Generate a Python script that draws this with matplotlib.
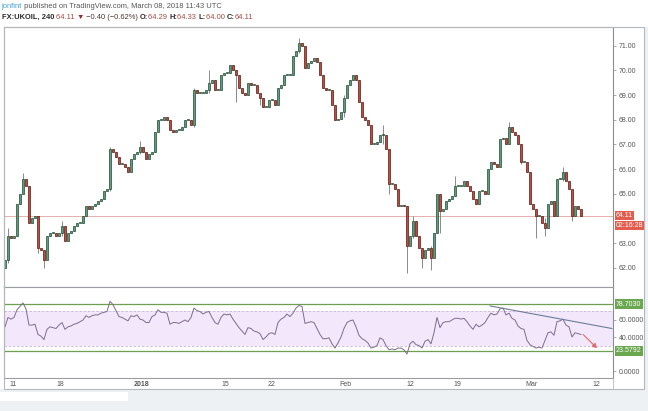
import matplotlib
matplotlib.use("Agg")
import matplotlib.pyplot as plt
from matplotlib.patches import Rectangle, FancyArrowPatch
import numpy as np

# ---------------- data ----------------
first_open = 62.0
closes = [
    62.3, 63.3, 63.2, 63.3, 64.6, 65.0, 65.6, 65.3, 63.8, 64.0,
    64.1, 62.8, 62.7, 62.3, 63.3, 63.4, 63.4, 63.3, 63.4, 63.7,
    63.1, 63.4, 63.5, 63.7, 63.8, 63.8, 64.1, 64.5, 64.4, 64.5,
    64.6, 64.7, 64.8, 65.1, 65.2, 66.8, 66.7, 66.5, 66.2, 66.2,
    66.1, 65.9, 66.4, 66.6, 66.7, 66.9, 66.7, 66.4, 66.6, 66.7,
    67.5, 68.0, 68.0, 68.1, 68.0, 67.6, 67.5, 67.6, 67.6, 67.7,
    68.0, 68.0, 67.8, 69.2, 69.1, 69.1, 69.1, 69.2, 69.5, 69.6,
    69.2, 69.2, 69.8, 69.9, 69.9, 70.2, 70.0, 69.8, 69.3, 69.1,
    69.0, 69.5, 69.4, 69.4, 69.1, 68.9, 68.5, 68.5, 68.8, 68.8,
    68.6, 69.3, 69.4, 69.8, 69.8, 69.8, 70.6, 70.8, 71.1, 71.0,
    70.1, 70.3, 70.4, 70.5, 70.35, 69.8, 69.3, 69.2, 69.2, 68.6,
    68.0, 68.05, 68.3, 68.9, 69.4, 69.6, 69.8, 69.6, 68.7, 68.1,
    68.0, 67.8, 67.0, 67.0, 67.1, 67.4, 67.4, 66.8, 65.4, 65.4,
    65.2, 64.5, 64.55, 64.5, 62.9, 63.3, 63.9, 63.3, 62.8, 62.4,
    62.7, 62.8, 62.4, 63.4, 65.0, 64.3, 64.4, 64.7, 64.8, 64.9,
    65.3, 65.3, 65.3, 65.5, 65.3, 65.1, 64.8, 64.6, 65.1, 65.1,
    65.0, 66.0, 66.3, 66.2, 66.1, 67.2, 67.25, 67.0, 67.7, 67.5,
    67.4, 67.0, 66.3, 66.3, 65.9, 64.6, 64.4, 64.1, 64.1, 63.8,
    63.6, 64.6, 64.7, 64.1, 65.6, 65.6, 65.9, 65.5, 65.2, 64.1,
    64.5, 64.4, 64.11,
]
# notable wick extremes: bar -> (high, low)
wicks = {
    1: (63.6, 62.2), 6: (65.85, 65.2), 11: (63.1, 62.6), 13: (62.6, 62.0),
    19: (63.9, 63.3), 35: (66.9, 65.1), 45: (67.15, 66.6), 63: (69.3, 67.7),
    68: (70.0, 69.1), 77: (70.0, 68.7), 85: (69.1, 68.6), 98: (71.3, 70.7),
    113: (69.0, 68.1), 126: (67.8, 67.0), 128: (66.8, 65.0), 134: (64.5, 61.8),
    136: (64.1, 63.2), 139: (62.8, 62.0), 142: (62.9, 61.9), 145: (65.0, 63.4),
    150: (65.7, 64.9), 168: (67.9, 67.0), 172: (66.8, 66.2), 177: (64.4, 63.2),
    180: (64.0, 63.3), 186: (66.1, 65.5), 189: (65.2, 63.9),
}
rsi = [
    52, 63, 61, 63, 72, 76, 80, 73, 54, 54,
    55, 43, 41, 37, 49, 52, 51, 50, 54, 57,
    49, 52, 53, 55, 56, 58, 60, 65, 63, 65,
    66, 66, 68, 69, 70, 82, 78, 71, 64, 63,
    61, 59, 65, 64, 66, 61, 60, 57, 57, 64,
    66, 72, 69, 69, 68, 55, 57, 57, 56, 58,
    60, 58, 63, 74, 71, 70, 67, 69, 70, 63,
    57, 55, 63, 67, 66, 67, 61, 56, 51, 47,
    43, 51, 50, 47, 46, 44, 37, 40, 44, 45,
    43, 57, 61, 63, 67, 64, 68, 74, 77, 76,
    56, 57, 58, 57, 50, 43, 38, 38, 39, 32,
    27, 33, 40, 50, 57, 59, 60, 52, 42, 38,
    36, 33, 27, 28, 30, 39, 37, 30, 25, 26,
    25, 27, 27, 25, 20, 32, 35, 31, 30, 27,
    35, 37, 32, 45, 63, 51, 57, 58, 58, 60,
    62, 62, 61, 62, 58, 53, 49, 55, 52, 54,
    57, 63, 68, 66, 67, 73, 74, 66, 68, 62,
    60, 53, 50, 49, 36, 31, 29, 27, 28, 27,
    36, 45, 46, 42, 58, 59, 61, 54, 52, 40,
    45, 44, 43,
]
last_price = 64.11
countdown = "02:16:28"
rsi_upper_level = 78.7030
rsi_lower_level = 23.5792
rsi_band = (30, 70)
price_ticks = [62, 63, 65, 66, 67, 68, 69, 70, 71]   # 64.00 is hidden by the last-price label
rsi_ticks = [0, 40, 60]
date_labels = ["11", "18", "2018", "15", "22", "Feb", "12", "19", "Mar", "12"]
date_bars = [2.67, 18.33, 45.57, 73.33, 88.9, 113.57, 135.23, 150.77, 175.57, 197.0]
trend_line = [(161.7, 76.5), (202.3, 50.0)]
rsi_arrow = [(192.7, 43.0), (197.3, 27.0)]

# ---------------- figure ----------------
W, H = 648, 411
fig = plt.figure(figsize=(W / 100, H / 100), dpi=100)
fig.patch.set_facecolor("white")
FONT = ["Liberation Sans", "DejaVu Sans"]

def fx(px):
    return px / W

def fy(py):
    return 1 - py / H

# bottom grey band
fig.add_artist(Rectangle((0, 0), 1, fy(389), transform=fig.transFigure,
                         fc="#eef1f4", ec="none", zorder=0))
fig.add_artist(Rectangle((fx(645), 0), fx(3), fy(27), transform=fig.transFigure,
                         fc="#eef1f4", ec="none", zorder=0))
fig.add_artist(Rectangle((0, fy(401)), fx(128), (401 - 392) / H, transform=fig.transFigure,
                         fc="white", ec="none", zorder=0))

ax = fig.add_axes([fx(4), fy(287), fx(609), (287 - 27) / H])
ax2 = fig.add_axes([fx(4), fy(378), fx(609), (378 - 287) / H], sharex=ax)

n = len(closes)
idx = np.arange(n)
opens = [first_open] + closes[:-1]
up_fc, up_ec = "#5f9c7c", "#1f4b33"
dn_fc, dn_ec = "#c24c3c", "#551812"
for i in range(n):
    o, c = opens[i], closes[i]
    hi, lo = max(o, c), min(o, c)
    if i in wicks:
        hi = max(hi, wicks[i][0])
        lo = min(lo, wicks[i][1])
    ax.vlines(i, lo, hi, color="#77777a", lw=0.6, zorder=2)
bottoms = [min(o, c) for o, c in zip(opens, closes)]
heights = [max(abs(c - o), 0.04) for o, c in zip(opens, closes)]
fcs = [up_fc if c >= o else dn_fc for o, c in zip(opens, closes)]
ecs = [up_ec if c >= o else dn_ec for o, c in zip(opens, closes)]
ax.bar(idx, heights, bottom=bottoms, width=0.72, color=fcs, edgecolor=ecs,
       linewidth=0.5, zorder=3)

ax.axhline(last_price, color="#e0a4a0", lw=0.6, zorder=1)
ax.set_ylim(61.22, 71.76)
ax.set_xlim(-0.33, 202.67)

for a in (ax, ax2):
    a.yaxis.tick_right()
    for s in ("left", "top", "bottom"):
        a.spines[s].set_color("#9a9ea3")
        a.spines[s].set_linewidth(0.8)
    a.spines["right"].set_color("#8a8d91")
    a.spines["right"].set_linewidth(0.8)
    a.tick_params(axis="y", which="both", direction="out", length=2.5, width=0.5,
                  colors="#8a8d91", labelsize=5, labelcolor="#555555", pad=1.5)

ax.set_yticks(price_ticks)
ax.set_yticklabels([f"{v:.2f}" for v in price_ticks], family=FONT)
ax.tick_params(axis="x", length=0, labelbottom=False)

red = "#e35d4d"
ax.annotate(f"{last_price:.2f}", xy=(1, last_price), xycoords=("axes fraction", "data"),
            xytext=(2.2, 0.2), textcoords="offset points", ha="left", va="center",
            fontsize=5, color="white", family=FONT,
            bbox=dict(boxstyle="square,pad=0.12", fc=red, ec="none"))
ax.annotate(countdown, xy=(1, last_price), xycoords=("axes fraction", "data"),
            xytext=(2.2, -7.2), textcoords="offset points", ha="left", va="center",
            fontsize=5, color="white", family=FONT,
            bbox=dict(boxstyle="square,pad=0.12", fc=red, ec="none"))

# ---------------- RSI pane ----------------
ax2.axhspan(rsi_band[0], rsi_band[1], color="#f3e8fb", zorder=0, lw=0)
for lv in rsi_band:
    ax2.axhline(lv, color="#c8b6d2", lw=0.6, ls=(0, (3, 2)), zorder=1)
green = "#6e9f4f"
ax2.axhline(rsi_upper_level, color=green, lw=0.9, zorder=2)
ax2.axhline(rsi_lower_level, color=green, lw=0.9, zorder=2)
ax2.plot(idx, rsi, color="#7d6b8c", lw=0.7, zorder=3)
(tx0, ty0), (tx1, ty1) = trend_line
ax2.plot([tx0, tx1], [ty0, ty1], color="#6f7c98", lw=0.8, zorder=4, clip_on=False)
(ax0_, ay0_), (ax1_, ay1_) = rsi_arrow
ax2.add_patch(FancyArrowPatch((ax0_, ay0_), (ax1_, ay1_), arrowstyle="-|>,head_length=2.5,head_width=1.5",
                              color="#e06a6a", lw=0.8, zorder=4, shrinkA=0, shrinkB=0))
ax2.set_ylim(-8.2, 98.8)
ax2.set_yticks(rsi_ticks)
ax2.set_yticklabels([f"{v:.4f}" for v in rsi_ticks], family=FONT)
for lv in (rsi_upper_level, rsi_lower_level):
    ax2.annotate(f"{lv:.4f}", xy=(1, lv), xycoords=("axes fraction", "data"),
                 xytext=(2.2, 0), textcoords="offset points", ha="left", va="center",
                 fontsize=5, color="white", family=FONT,
                 bbox=dict(boxstyle="square,pad=0.2", fc="#6aa84f", ec="none"))

ax2.set_xticks(date_bars)
ax2.set_xticklabels(date_labels, family=FONT)
ax2.tick_params(axis="x", length=0, labelsize=5, labelcolor="#555555", pad=2)
for lab in ax2.get_xticklabels():
    if lab.get_text() == "2018":
        lab.set_fontweight("bold")

# outer border
fig.add_artist(Rectangle((fx(4), fy(389)), fx(640), (389 - 27) / H, transform=fig.transFigure,
                         fill=False, ec="#b4b8bd", lw=0.8, zorder=5))
fig.add_artist(plt.Line2D([fx(613), fx(613)], [fy(389), fy(378)], transform=fig.transFigure,
                          color="#b4b8bd", lw=0.6))

# ---------------- header ----------------
renderer = fig.canvas.get_renderer()

def seq_text(x_px, y_px, pieces, size):
    x = fx(x_px)
    for txt, color, weight in pieces:
        t = fig.text(x, fy(y_px), txt, color=color, fontsize=size, fontweight=weight,
                     family=FONT, ha="left", va="center")
        bb = t.get_window_extent(renderer)
        x = bb.x1 / W

seq_text(1.5, 6.5, [("jonfint", "#3d9fd6", "normal"),
                    (" published on TradingView.com, March 08, 2018 11:43 UTC", "#555555", "normal")], 5.4)
dark = "#2b2b2b"
val = "#a64a44"
seq_text(1.5, 17.5, [("FX:UKOIL, 240 ", dark, "bold"), ("64.11 ", val, "normal"),
                     ("\u25BC", "#a02a2a", "normal"), (" \u22120.40 (\u22120.62%) ", "#4a3535", "normal"),
                     ("O:", dark, "bold"), ("64.29 ", val, "normal"),
                     ("H:", dark, "bold"), ("64.33 ", val, "normal"),
                     ("L:", dark, "bold"), ("64.00 ", val, "normal"),
                     ("C:", dark, "bold"), ("64.11", val, "normal")], 5.4)

fig.savefig("out.png", dpi=100)
